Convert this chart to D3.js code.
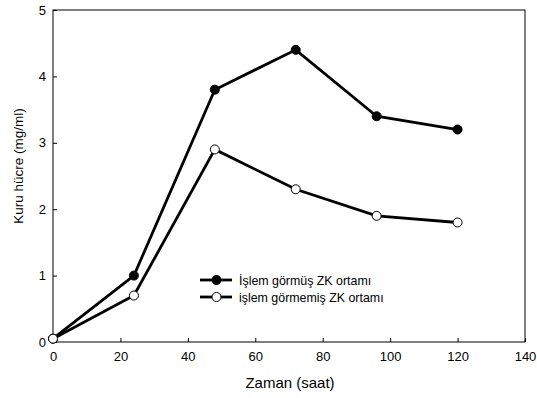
<!DOCTYPE html>
<html><head><meta charset="utf-8">
<script src="https://cdn.jsdelivr.net/npm/d3@7"></script>
<style>body{margin:0;background:#fff}svg{display:block}text{font-family:"Liberation Sans",Arial,sans-serif}</style>
</head><body><svg id="c" width="537" height="398"></svg>
<script>
const hours = [0, 24, 48, 72, 96, 120];
const treated = [0.05, 1.0, 3.8, 4.4, 3.4, 3.2];
const untreated = [0.05, 0.7, 2.9, 2.3, 1.9, 1.8];
const seriesNames = ["İşlem görmüş ZK ortamı", "işlem görmemiş ZK ortamı"];
const xTicks = [0, 20, 40, 60, 80, 100, 120, 140];
const yTicks = [0, 1, 2, 3, 4, 5];

const svg = d3.select("#c");
const x = d3.scaleLinear().domain([0, 140]).range([53, 525]);
const y = d3.scaleLinear().domain([0, 5]).range([342, 10]);

// frame
svg.append("rect").attr("x", 53).attr("y", 10).attr("width", 472).attr("height", 332)
  .attr("fill", "none").attr("stroke", "#000").attr("stroke-width", 1);

const xa = svg.append("g").attr("transform", "translate(0,342)")
  .call(d3.axisBottom(x).tickValues(xTicks).tickFormat(d3.format("d")).tickSizeInner(-4).tickSizeOuter(0).tickPadding(10));
const ya = svg.append("g").attr("transform", "translate(53,0)")
  .call(d3.axisLeft(y).tickValues(yTicks).tickFormat(d3.format("d")).tickSizeInner(-4).tickSizeOuter(0).tickPadding(7));
[xa, ya].forEach(g => {
  g.select(".domain").remove();
  g.selectAll("text").attr("font-size", 13).attr("fill", "#000").style("font-family", '"Liberation Sans",Arial,sans-serif');
  g.selectAll("line").attr("stroke", "#000");
});

svg.append("text").attr("x", 290).attr("y", 388).attr("text-anchor", "middle")
  .attr("font-size", 15).text("Zaman (saat)");
svg.append("text").attr("transform", "translate(23,166) rotate(-90)").attr("text-anchor", "middle")
  .attr("font-size", 13.5).text("Kuru hücre (mg/ml)");

const line = d3.line().x(d => x(d[0])).y(d => y(d[1]));
const series = [
  {vals: treated, fill: "#000"},
  {vals: untreated, fill: "#fff"}
];
series.forEach(s => {
  const pts = hours.map((h, i) => [h, s.vals[i]]);
  svg.append("path").attr("d", line(pts)).attr("fill", "none")
    .attr("stroke", "#000").attr("stroke-width", 2.8);
  svg.selectAll(null).data(pts).enter().append("circle")
    .attr("cx", d => x(d[0])).attr("cy", d => y(d[1])).attr("r", 4.5)
    .attr("fill", s.fill).attr("stroke", "#000").attr("stroke-width", 1);
});

// legend
const lg = svg.append("g");
series.forEach((s, i) => {
  const ly = 280 + i * 17;
  lg.append("line").attr("x1", 200).attr("x2", 232).attr("y1", ly).attr("y2", ly)
    .attr("stroke", "#000").attr("stroke-width", 2.8);
  lg.append("circle").attr("cx", 216.5).attr("cy", ly).attr("r", 4.5)
    .attr("fill", s.fill).attr("stroke", "#000").attr("stroke-width", 1);
  lg.append("text").attr("x", 239).attr("y", ly + 4.5).attr("font-size", 12.4).text(seriesNames[i]);
});
</script></body></html>
